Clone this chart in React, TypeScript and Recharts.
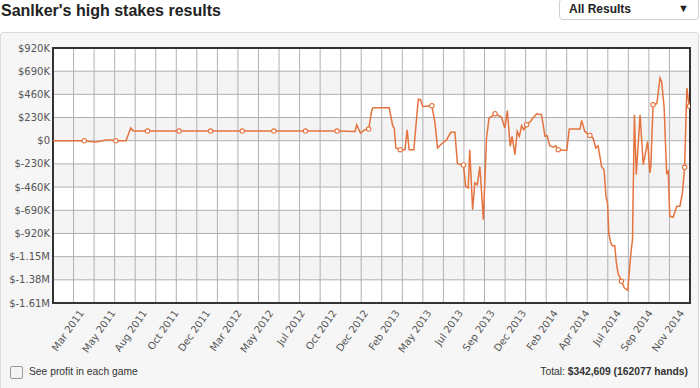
import React from "react";
import { LineChart, Line, XAxis, YAxis, CartesianGrid, ReferenceArea } from "recharts";

// x position in "label steps": each date label (and each marker) sits on a whole number
const tickLabels = [
  "Mar 2011", "May 2011", "Aug 2011", "Oct 2011", "Dec 2011",
  "Mar 2012", "May 2012", "Jul 2012", "Oct 2012", "Dec 2012",
  "Feb 2013", "May 2013", "Jul 2013", "Sep 2013", "Dec 2013",
  "Feb 2014", "Apr 2014", "Jul 2014", "Sep 2014", "Nov 2014",
];

const positions = [
  -0.99, 0, 0.18, 0.37, 0.5, 0.69, 0.88, 1, 1.32, 1.47, 1.55, 2, 3, 4, 5, 6, 7, 8,
  8.57, 8.62, 8.74, 8.88, 9, 9.1, 9.14, 9.65, 9.76, 9.81, 9.86, 10, 10.15, 10.22, 10.28, 10.43,
  10.57, 10.64, 10.71, 10.9, 11, 11.1, 11.18, 11.31, 11.47, 11.6, 11.73, 11.81, 12, 12.07,
  12.15, 12.2, 12.29, 12.36, 12.44, 12.52, 12.63, 12.73, 12.81, 12.89, 13, 13.2, 13.31, 13.39,
  13.48, 13.54, 13.63, 13.7, 13.77, 13.84, 13.91, 14, 14.12, 14.2, 14.32, 14.47, 14.58, 14.65,
  14.73, 14.84, 14.92, 15, 15.27, 15.35, 15.69, 15.74, 15.84, 16, 16.1, 16.19, 16.26, 16.31,
  16.37, 16.45, 16.51, 16.56, 16.6, 16.66, 16.71, 16.79, 16.84, 16.89, 17, 17.09, 17.2, 17.3,
  17.35, 17.41, 17.47, 17.59, 17.69, 17.83, 17.9, 17.93, 18, 18.12, 18.22, 18.27, 18.35, 18.43,
  18.48, 18.53, 18.64, 18.75, 18.85, 18.93, 19, 19.07, 19.11, 19.15,
];

// cumulative profit, thousands of dollars
const profitK = [
  0, 0, -8, -12, -5, 8, 8, 0, 0, 126, 96, 96, 96, 96, 96, 96, 96, 96,
  92, 159, 76, 109, 116, 307, 327, 327, 149, 126, -73, -89, -89, 109, -89, -89,
  413, 407, 340, 345, 347, 175, -73, -30, 10, 83, 83, -228, -241, -453,
  -469, -89, -684, -419, -436, -255, -783, 27, 225, 241, 268, 235, 126, 300,
  -56, 43, -139, 92, 43, 149, 109, 159, 191, 225, 268, 258, 43, 50,
  -50, -63, -50, -89, -96, 116, 116, 202, 92, 53, 27, -73, -50, -139,
  -255, -288, -552, -618, -915, -1014, -1041, -1041, -1213, -1312, -1395, -1460, -1484, -1113,
  -981, 258, -337, 258, -238, -7, -320, -255, 357, 367, 622, 588, 340, -320,
  -300, -750, -757, -651, -651, -518, -264, 522, 423, 343,
];

const yTicks = [920, 690, 460, 230, 0, -230, -460, -690, -920, -1150, -1380, -1610];
const markerPositions = [...tickLabels.map((_, i) => i), 19.15];

const xDomain = [-0.99, 19.17];
const yDomain = [-1610, 920];

const data = positions.map((t, i) => ({ t, profit: profitK[i] }));

const orange = "#e5733f";
const labelFont = "'DejaVu Sans', Verdana, sans-serif";

function formatMoney(v: number) {
  if (v === 0) return "$0";
  if (Math.abs(v) >= 1000) return `$${(v / 1000).toFixed(2)}M`;
  return `$${v}K`;
}

function DateTick(props: any) {
  const { x, y, payload } = props;
  return (
    <text
      x={x}
      y={y + 2}
      textAnchor="end"
      fontSize={10}
      fontFamily={labelFont}
      fill="#555"
      transform={`rotate(-55, ${x}, ${y + 2})`}
    >
      {tickLabels[payload.value]}
    </text>
  );
}

function Marker(props: any) {
  const { cx, cy, payload, index } = props;
  if (!markerPositions.includes(payload.t)) return <g key={`d${index}`} />;
  return <circle key={`d${index}`} cx={cx} cy={cy} r={2.2} fill="#fff" stroke={orange} strokeWidth={1.1} />;
}

export default function App() {
  return (
    <div
      style={{
        position: "absolute",
        left: 0,
        top: 0,
        width: 700,
        height: 388,
        background: "#fff",
        fontFamily: "'Liberation Sans', Arial, sans-serif",
        overflow: "hidden",
      }}
    >
      <div style={{ position: "absolute", left: 1, top: 2, fontSize: 16, fontWeight: "bold", color: "#222" }}>
        Sanlker's high stakes results
      </div>

      <div
        style={{
          position: "absolute",
          left: 559,
          top: -2,
          width: 138,
          height: 20,
          border: "1px solid #cfcfcf",
          borderRadius: 4,
          background: "#fff",
          fontSize: 12,
          fontWeight: "bold",
          color: "#222",
        }}
      >
        <span style={{ position: "absolute", left: 9, top: 3 }}>All Results</span>
        <span style={{ position: "absolute", right: 9, top: 3, fontSize: 11 }}>▼</span>
      </div>

      <div
        style={{
          position: "absolute",
          left: 0,
          top: 32,
          width: 697,
          height: 360,
          border: "1px solid #dcdcdc",
          borderRadius: 3,
          background: "#f6f6f6",
        }}
      />

      <div style={{ position: "absolute", left: 0, top: 0 }}>
        <LineChart width={700} height={388} data={data} margin={{ top: 48, right: 10, left: 3, bottom: 25 }}>
          <CartesianGrid
            stroke="#b0b0b0"
            horizontalFill={["#ffffff", "#f4f4f4"]}
            fillOpacity={1}
            verticalCoordinatesGenerator={({ offset }: any) =>
              Array.from({ length: 32 }, (_, i) => offset.left + (i * offset.width) / 31)
            }
          />
          <XAxis
            dataKey="t"
            type="number"
            domain={xDomain}
            allowDataOverflow
            ticks={tickLabels.map((_, i) => i)}
            interval={0}
            height={60}
            axisLine={false}
            tickLine={false}
            tick={<DateTick />}
          />
          <YAxis
            type="number"
            domain={yDomain}
            allowDataOverflow
            ticks={yTicks}
            interval={0}
            width={50}
            axisLine={false}
            tickLine={false}
            tickSize={0}
            tickMargin={3}
            tickFormatter={formatMoney}
            tick={{ fontSize: 10, fontFamily: labelFont, fill: "#555" }}
          />
          <ReferenceArea
            x1={xDomain[0]}
            x2={xDomain[1]}
            y1={yDomain[0]}
            y2={yDomain[1]}
            fill="none"
            stroke="#333"
            strokeWidth={2}
            ifOverflow="visible"
          />
          <Line
            type="linear"
            dataKey="profit"
            stroke={orange}
            strokeWidth={1.5}
            dot={Marker}
            activeDot={false}
            isAnimationActive={false}
          />
        </LineChart>
      </div>

      <div
        style={{
          position: "absolute",
          left: 10,
          top: 366,
          width: 11,
          height: 11,
          border: "1px solid #999",
          borderRadius: 2,
          background: "#f4f4f4",
        }}
      />
      <div style={{ position: "absolute", left: 29, top: 366, fontSize: 10.3, color: "#333" }}>
        See profit in each game
      </div>
      <div style={{ position: "absolute", right: 12, top: 366, fontSize: 10.3, color: "#333" }}>
        Total: <b>$342,609 (162077 hands)</b>
      </div>
    </div>
  );
}
